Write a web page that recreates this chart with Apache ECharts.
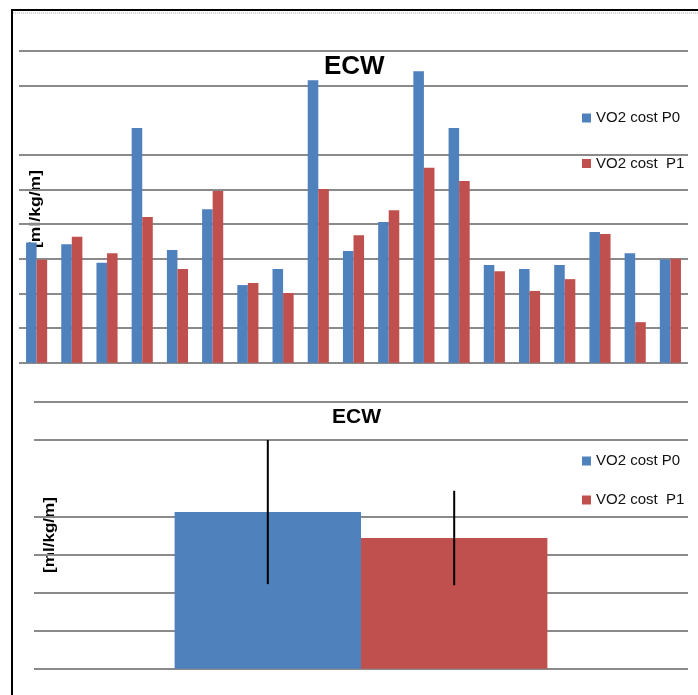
<!DOCTYPE html>
<html>
<head>
<meta charset="utf-8">
<script src="https://cdn.jsdelivr.net/npm/echarts@6/dist/echarts.min.js"></script>
<style>
html,body{margin:0;padding:0;background:#fff;}
#chart{width:698px;height:695px;}
</style>
</head>
<body>
<div id="chart"></div>
<script>
// ---- data ----
var titleText = 'ECW';
var yAxisName = '[ml/kg/m]';
var seriesNames = ['VO2 cost P0', 'VO2 cost  P1'];
var subjects = ['1','2','3','4','5','6','7','8','9','10','11','12','13','14','15','16','17','18','19'];
var costP0 = [3.47,3.42,2.88,6.77,3.25,4.43,2.24,2.70,8.15,3.22,4.06,8.41,6.77,2.82,2.70,2.82,3.77,3.16,2.98];
var costP1 = [2.97,3.63,3.16,4.20,2.70,4.95,2.30,2.01,5.01,3.68,4.40,5.62,5.24,2.64,2.07,2.41,3.71,1.17,3.00];
var meanCategory = [''];
var meanP0 = [4.11];
var meanP1 = [3.43];
var sdP0 = [1.89];
var sdP1 = [1.24];

var BLUE = '#4F81BD', RED = '#C0504D', GRID = '#8a8a8a';
var topGridColors = [GRID,GRID,GRID,GRID,GRID,GRID,GRID,'rgba(0,0,0,0)',GRID,GRID];
var botGridColors = [GRID,GRID,GRID,GRID,GRID,'rgba(0,0,0,0)',GRID,GRID];
var botGap = 0.43;

var chart = echarts.init(document.getElementById('chart'), null, {renderer:'canvas'});

function errItem(params, api) {
  var cat = api.value(0), m = api.value(1), e = api.value(2), side = api.value(3);
  var band = api.size([1, 0])[0];
  var bw = band * (1 - botGap) / 2;
  var cx = api.coord([cat, m])[0] + (side === 0 ? -bw / 2 : bw / 2);
  var y1 = api.coord([cat, m + e])[1];
  var y2 = api.coord([cat, m - e])[1];
  return {type:'line', shape:{x1:cx, y1:y1, x2:cx, y2:y2}, style:{stroke:'#000', lineWidth:2}};
}

var errData = [];
meanCategory.forEach(function(c, i){
  errData.push([i, meanP0[i], sdP0[i], 0]);
  errData.push([i, meanP1[i], sdP1[i], 1]);
});

var legendText = {fontFamily:'Liberation Sans', fontSize:15, lineHeight:15, color:'#111'};

chart.setOption({
  animation:false,
  backgroundColor:'#fff',
  textStyle:{fontFamily:'Liberation Sans'},
  title:[
    {text:titleText, left:324, top:54, padding:0,
     textStyle:{fontFamily:'Liberation Sans', fontWeight:'bold', fontSize:26, lineHeight:26, color:'#000'}},
    {text:titleText, left:332, top:406.5, padding:0,
     textStyle:{fontFamily:'Liberation Sans', fontWeight:'bold', fontSize:21, lineHeight:21, color:'#000'}}
  ],
  legend:[
    {orient:'vertical', left:582, top:110.5, padding:0, itemWidth:9, itemHeight:9, itemGap:30.5,
     icon:'rect', data:seriesNames, textStyle:legendText, selectedMode:false},
    {orient:'vertical', left:582, top:453.5, padding:0, itemWidth:9, itemHeight:9, itemGap:24,
     icon:'rect', data:seriesNames, textStyle:legendText, selectedMode:false}
  ],
  grid:[
    {left:19, right:10, top:50.7, height:312, outerBoundsMode:'none', containLabel:false},
    {left:34, right:10, top:402, height:266.7, outerBoundsMode:'none', containLabel:false}
  ],
  xAxis:[
    {type:'category', gridIndex:0, data:subjects, axisLine:{show:false}, axisTick:{show:false}, axisLabel:{show:false}, splitLine:{show:false}},
    {type:'category', gridIndex:1, data:meanCategory, axisLine:{show:false}, axisTick:{show:false}, axisLabel:{show:false}, splitLine:{show:false}}
  ],
  yAxis:[
    {type:'value', gridIndex:0, min:0, max:9, interval:1, axisLine:{show:false}, axisTick:{show:false}, axisLabel:{show:false},
     splitLine:{show:true, showMinLine:true, showMaxLine:true, lineStyle:{color:topGridColors, width:2}}},
    {type:'value', gridIndex:1, min:0, max:7, interval:1, axisLine:{show:false}, axisTick:{show:false}, axisLabel:{show:false},
     splitLine:{show:true, showMinLine:true, showMaxLine:true, lineStyle:{color:botGridColors, width:2}}}
  ],
  series:[
    {name:seriesNames[0], type:'bar', xAxisIndex:0, yAxisIndex:0, data:costP0, itemStyle:{color:BLUE}, barGap:'0%', barCategoryGap:'40%'},
    {name:seriesNames[1], type:'bar', xAxisIndex:0, yAxisIndex:0, data:costP1, itemStyle:{color:RED}, barGap:'0%', barCategoryGap:'40%'},
    {name:seriesNames[0], type:'bar', xAxisIndex:1, yAxisIndex:1, data:meanP0, itemStyle:{color:BLUE}, barGap:'0%', barCategoryGap:(botGap*100)+'%'},
    {name:seriesNames[1], type:'bar', xAxisIndex:1, yAxisIndex:1, data:meanP1, itemStyle:{color:RED}, barGap:'0%', barCategoryGap:(botGap*100)+'%'},
    {type:'custom', xAxisIndex:1, yAxisIndex:1, renderItem:errItem, data:errData, z:10, silent:true}
  ],
  graphic:[
    {type:'line', shape:{x1:11, y1:10, x2:698, y2:10}, style:{stroke:'#000', lineWidth:2}},
    {type:'line', shape:{x1:13, y1:13, x2:698, y2:13}, style:{stroke:'#aaa', lineWidth:1, lineDash:[1,1]}},
    {type:'line', shape:{x1:12, y1:9, x2:12, y2:695}, style:{stroke:'#000', lineWidth:2}},
    {type:'text', x:36, y:209, rotation:Math.PI/2, scaleX:1.17, scaleY:1,
     style:{text:yAxisName, fontFamily:'Liberation Sans', fontWeight:'bold', fontSize:15, fill:'#000', align:'center', verticalAlign:'middle'}},
    {type:'text', x:50, y:535, rotation:Math.PI/2, scaleX:1.14, scaleY:1,
     style:{text:yAxisName, fontFamily:'Liberation Sans', fontWeight:'bold', fontSize:15, fill:'#000', align:'center', verticalAlign:'middle'}}
  ]
});
</script>
</body>
</html>
